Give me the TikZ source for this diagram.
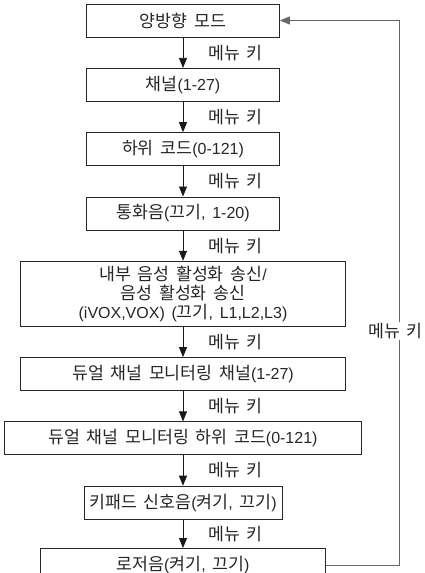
\documentclass[tikz,border=0pt]{standalone}
\usepackage{fontspec}
\setmainfont[WordSpace=1.5]{Liberation Sans}
\newfontfamily\krfont[Scale=1.08,WordSpace=1.5]{Noto Sans CJK KR}
% Hangul in Noto Sans CJK KR, everything else in Liberation Sans
\XeTeXinterchartokenstate=1
\newXeTeXintercharclass\krclass
\makeatletter
\count@="AC00
\loop
  \XeTeXcharclass\count@=\krclass
  \advance\count@ by 1
\ifnum\count@<"D7A4 \repeat
\makeatother
\XeTeXinterchartoks 0 \krclass = {\krfont}
\XeTeXinterchartoks 4095 \krclass = {\krfont}
\XeTeXinterchartoks \krclass 0 = {\rmfamily}
\XeTeXinterchartoks \krclass 4095 = {\rmfamily}
\usepackage{tikz}
\usetikzlibrary{positioning,arrows.meta}

\begin{document}
\begin{tikzpicture}[x=1pt,y=1pt,
    font=\fontsize{16}{19}\selectfont,
    box/.style={draw=black!85, line width=0.8pt, text=black!85, minimum height=33pt, inner sep=2pt, align=center},
    arr/.style={-{Triangle[width=8pt,length=10pt]}, line width=0.8pt, draw=black!90},
    lbl/.style={anchor=west, xshift=25pt, inner sep=0pt, text=black!85},
    back/.style={-{Triangle[width=8pt,length=10pt]}, line width=0.8pt, draw=black!60},
    node distance=30.5pt]
\useasboundingbox (0,0) rectangle (425,-573);

                    \node[box, minimum width=193pt] (mode) at (183,-20.5) {양방향 모드};
                    \node[box, minimum width=193pt, below=of mode] (chan) {채널(1-27)};
                    \node[box, minimum width=193pt, below=of chan] (subcode) {하위 코드(0-121)};
                    \node[box, minimum width=193pt, below=of subcode] (tone) {통화음(끄기, 1-20)};
                    \node[box, minimum width=325pt, minimum height=65pt, below=of tone] (vox) {내부 음성 활성화 송신/\\음성 활성화 송신\\(iVOX,VOX) (끄기, L1,L2,L3)};
                    \node[box, minimum width=325pt, below=of vox] (dualch) {듀얼 채널 모니터링 채널(1-27)};
                    \node[box, minimum width=357pt, below=of dualch] (dualsub) {듀얼 채널 모니터링 하위 코드(0-121)};
                    \node[box, minimum width=198pt, below=of dualsub] (keybeep) {키패드 신호음(켜기, 끄기)};
                    \node[box, minimum width=285pt, below=28.5pt of keybeep] (laser) {로저음(켜기, 끄기)};

                    \draw[arr] (mode) -- node[lbl] {메뉴 키} (chan);
                    \draw[arr] (chan) -- node[lbl] {메뉴 키} (subcode);
                    \draw[arr] (subcode) -- node[lbl] {메뉴 키} (tone);
                    \draw[arr] (tone) -- node[lbl] {메뉴 키} (vox);
                    \draw[arr] (vox) -- node[lbl] {메뉴 키} (dualch);
                    \draw[arr] (dualch) -- node[lbl] {메뉴 키} (dualsub);
                    \draw[arr] (dualsub) -- node[lbl] {메뉴 키} (keybeep);
                    \draw[arr] (keybeep) -- node[lbl] {메뉴 키} (laser);

                    \coordinate (rt) at ([xshift=119.5pt]mode.east);
                    \draw[back] (laser.east) -| node[pos=0.715, xshift=-4pt, fill=white, inner sep=1pt, text=black!85] {메뉴 키} (rt) -- (mode.east);
    
                \end{tikzpicture}
\end{document}
